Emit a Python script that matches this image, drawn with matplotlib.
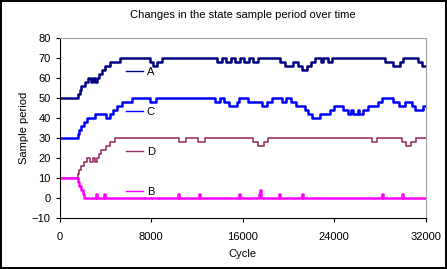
import matplotlib.pyplot as plt

# step change points (cycle, sample period)
a_cycle = [0, 1600, 1750, 1900, 2200, 2450, 2700, 2900, 3100, 3250, 3450, 3700, 3960, 4400,
           5270, 7900, 8190, 8480, 8900, 13780, 14180, 14560, 14960, 15340, 15740, 16120,
           16520, 16900, 17300, 19260, 19700, 20430, 20860, 21150, 21600, 21970, 22320,
           22850, 23050, 23480, 23780, 28440, 29170, 29750, 30040, 31350, 31700, 32000]
a_value = [50, 52, 54, 56, 58, 60, 58, 60, 58, 60, 62, 64, 66, 68,
           70, 68, 66, 68, 70, 68, 70, 68, 70, 68, 70, 68,
           70, 68, 70, 68, 66, 68, 66, 64, 66, 68, 70,
           68, 70, 68, 70, 68, 66, 68, 70, 68, 66, 66]

c_cycle = [0, 1575, 1720, 1865, 2130, 2420, 3090, 4050, 4400, 4690, 5040, 5420, 6290, 7900,
           8420, 13590, 14020, 14370, 14830, 15470, 15700, 16490, 17660, 18150, 18530, 19410,
           19790, 20200, 20660, 21450, 21740, 22030, 22760, 23630, 23980, 24800, 25180,
           25470, 25670, 26050, 26190, 26540, 26980, 27800, 28200, 29170, 29660, 30190,
           30770, 31060, 31790, 32000]
c_value = [30, 32, 34, 36, 38, 40, 42, 40, 42, 44, 46, 48, 50, 48,
           50, 48, 50, 48, 46, 48, 50, 48, 46, 48, 50, 48,
           50, 48, 46, 44, 42, 40, 42, 44, 46, 44, 42,
           44, 42, 44, 42, 44, 46, 48, 50, 48, 46, 48,
           46, 44, 46, 46]

d_cycle = [0, 1575, 1720, 1870, 2130, 2420, 2650, 2880, 3090, 3260, 3440, 3640, 4050, 4400,
           4840, 10430, 11010, 12120, 12700, 16930, 17370, 17860, 18240, 27280, 27770,
           29900, 30250, 30710, 31120, 32000]
d_value = [10, 12, 14, 16, 18, 20, 18, 20, 18, 20, 22, 24, 26, 28,
           30, 28, 30, 28, 30, 28, 26, 28, 30, 28, 30,
           28, 26, 28, 30, 30]

b_cycle = [0, 1575, 1720, 1865, 2000, 2130, 3150, 3230, 3900, 3980, 10320, 10400,
           12150, 12230, 15700, 15780, 17450, 17500, 17560, 17620, 19200, 19280,
           21150, 21230, 28200, 28280, 29900, 29980, 32000]
b_value = [10, 8, 6, 4, 2, 0, 2, 0, 2, 0, 2, 0,
           2, 0, 2, 0, 2, 4, 2, 0, 2, 0,
           2, 0, 2, 0, 2, 0, 0]

x_ticks = [0, 8000, 16000, 24000, 32000]
y_ticks = list(range(-10, 81, 10))

plt.rcParams['font.family'] = ['Liberation Sans', 'DejaVu Sans']

fig = plt.figure(figsize=(4.47, 2.69), dpi=100)
fig.patch.set_edgecolor('black')
fig.patch.set_linewidth(1.5)
ax = fig.add_axes([0.1336, 0.1907, 0.9523 - 0.1336, 0.8599 - 0.1907])

ax.step(a_cycle, a_value, where='post', color='#000080', lw=1.8, label='A')
ax.step(c_cycle, c_value, where='post', color='#0000FF', lw=1.8, label='C')
ax.step(d_cycle, d_value, where='post', color='#993366', lw=1.2, label='D')
ax.step(b_cycle, b_value, where='post', color='#FF00FF', lw=1.8, label='B')

ax.set_xlim(0, 32000)
ax.set_ylim(-10, 80)
ax.set_xticks(x_ticks)
ax.set_yticks(y_ticks)
ax.tick_params(labelsize=8, length=3, width=0.8, direction='out')
ax.tick_params(axis='x', pad=7)
for s in ['top', 'right']:
    ax.spines[s].set_color('#a0a0a0')
for s in ['left', 'bottom']:
    ax.spines[s].set_color('black')

ax.set_title('Changes in the state sample period over time', fontsize=8, pad=14)
ax.set_xlabel('Cycle', fontsize=8, labelpad=5)
ax.set_ylabel('Sample period', fontsize=8, labelpad=2)

leg = ax.legend(loc='upper left', bbox_to_anchor=(0.165, 0.87), frameon=False,
                fontsize=8, labelspacing=2.7, handlelength=1.6, handletextpad=0.3,
                borderpad=0)
for h in leg.get_lines():
    h.set_linewidth(1.0)

fig.savefig('out.png', dpi=100)
